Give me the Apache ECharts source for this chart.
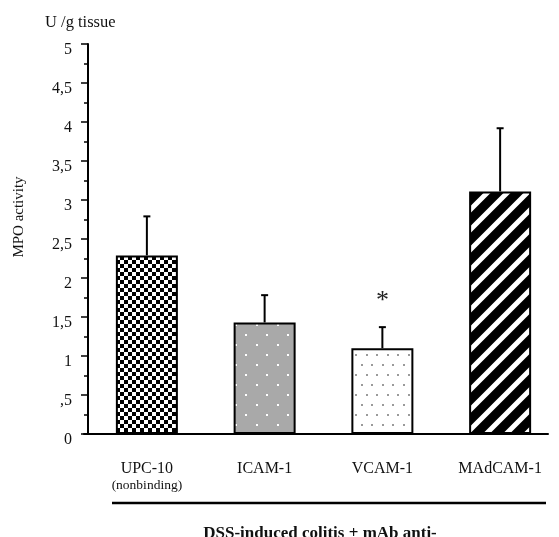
<!DOCTYPE html>
<html>
<head>
<meta charset="utf-8">
<script src="https://cdn.jsdelivr.net/npm/echarts@6/dist/echarts.min.js"></script>
<style>
  html, body { margin: 0; padding: 0; background: #fff; }
  #chart { width: 559px; height: 537px; }
</style>
</head>
<body>
<div id="chart"></div>
<script>
// data
var categories = ['UPC-10', 'ICAM-1', 'VCAM-1', 'MAdCAM-1'];
var subLabels = ['(nonbinding)', '', '', ''];
var mpoMean = [2.29, 1.43, 1.10, 3.11];
var mpoErr = [0.50, 0.35, 0.27, 0.81];
var signif = ['', '', '*', ''];
var yTicks = [0, 0.5, 1, 1.5, 2, 2.5, 3, 3.5, 4, 4.5, 5];

var SERIF = '"Liberation Serif", "DejaVu Serif", serif';

// fill patterns for the bars
function makePattern(w, h, draw) {
  var c = document.createElement('canvas');
  c.width = w; c.height = h;
  draw(c.getContext('2d'));
  return { image: c, repeat: 'repeat' };
}
var checker = makePattern(8, 8, function (g) {
  g.fillStyle = '#fff'; g.fillRect(0, 0, 8, 8);
  g.fillStyle = '#000'; g.fillRect(0, 0, 4, 4); g.fillRect(4, 4, 4, 4);
});
var grayDots = makePattern(21, 20, function (g) {
  g.fillStyle = '#a9a9a9'; g.fillRect(0, 0, 21, 20);
  g.fillStyle = '#fff';
  g.fillRect(4, 4, 2, 2); g.fillRect(14, 14, 2, 2);
});
var lightDots = makePattern(21, 20, function (g) {
  g.fillStyle = '#fff'; g.fillRect(0, 0, 21, 20);
  g.fillStyle = '#9a9a9a';
  g.fillRect(4, 4, 2, 2); g.fillRect(14, 4, 2, 2);
  g.fillRect(9, 14, 2, 2); g.fillRect(19, 14, 2, 2);
});
var stripes = makePattern(20, 20, function (g) {
  g.fillStyle = '#000'; g.fillRect(0, 0, 20, 20);
  g.strokeStyle = '#fff'; g.lineWidth = 5;
  g.beginPath();
  g.moveTo(-5, 25); g.lineTo(25, -5);
  g.moveTo(-15, 15); g.lineTo(15, -15);
  g.moveTo(5, 35); g.lineTo(35, 5);
  g.stroke();
});
var fills = [checker, grayDots, lightDots, stripes];

var myChart = echarts.init(document.getElementById('chart'));

var option = {
  backgroundColor: '#fff',
  animation: false,
  title: {
    text: 'U /g tissue',
    left: 45,
    top: 14,
    padding: 0,
    textStyle: { fontFamily: SERIF, fontSize: 16.5, fontWeight: 'normal', color: '#111' }
  },
  grid: [
    { left: 88, top: 44, width: 473, height: 390 },
    { left: 84, top: 44, width: 464, height: 390 }
  ],
  xAxis: [
    {
      type: 'category',
      gridIndex: 0,
      data: categories,
      axisLine: { show: false },
      axisTick: { show: false },
      axisLabel: {
        margin: 26,
        interval: 0,
        color: '#111',
        fontFamily: SERIF,
        formatter: function (v, i) {
          return subLabels[i] ? '{a|' + v + '}\n{b|' + subLabels[i] + '}' : '{a|' + v + '}';
        },
        rich: {
          a: { fontFamily: SERIF, fontSize: 16, lineHeight: 17, color: '#111' },
          b: { fontFamily: SERIF, fontSize: 13.5, lineHeight: 16, color: '#111' }
        }
      }
    },
    {
      type: 'value',
      gridIndex: 1,
      min: 0,
      max: 1,
      axisLine: { show: true, lineStyle: { color: '#000', width: 2 } },
      axisTick: { show: false },
      axisLabel: { show: false },
      splitLine: { show: false }
    }
  ],
  yAxis: [
    {
      type: 'value',
      gridIndex: 0,
      min: 0,
      max: 5,
      interval: 0.5,
      name: 'MPO activity',
      nameLocation: 'middle',
      nameGap: 61,
      nameTextStyle: { fontFamily: SERIF, fontSize: 15, color: '#111', padding: [0, 0, 0, 44] },
      axisLine: { show: true, lineStyle: { color: '#000', width: 2 } },
      axisTick: { show: true, length: 7, lineStyle: { color: '#000', width: 1.5 } },
      minorTick: { show: true, splitNumber: 2, length: 4, lineStyle: { color: '#000', width: 1.5 } },
      splitLine: { show: false },
      axisLabel: {
        margin: 16,
        color: '#111',
        fontFamily: SERIF,
        fontSize: 16,
        lineHeight: 12,
        verticalAlign: 'top',
        formatter: function (v) {
          if (yTicks.indexOf(v) < 0) return '';
          return v === 0 ? '0' : String(v).replace(/^0/, '').replace('.', ',');
        }
      }
    },
    { type: 'value', gridIndex: 1, show: false, min: 0, max: 1 }
  ],
  series: [
    {
      type: 'bar',
      xAxisIndex: 0,
      yAxisIndex: 0,
      barWidth: 62,
      data: mpoMean.map(function (v, i) {
        return {
          value: v,
          itemStyle: { color: fills[i], borderColor: '#000', borderWidth: 2 }
        };
      }),
      z: 2
    },
    {
      type: 'custom',
      xAxisIndex: 0,
      yAxisIndex: 0,
      data: mpoMean.map(function (v, i) { return [i, v, v + mpoErr[i]]; }),
      renderItem: function (params, api) {
        var base = api.coord([api.value(0), api.value(1)]);
        var top = api.coord([api.value(0), api.value(2)]);
        var children = [
          { type: 'line', shape: { x1: base[0], y1: base[1], x2: top[0], y2: top[1] },
            style: { stroke: '#000', lineWidth: 2 } },
          { type: 'line', shape: { x1: top[0] - 3.5, y1: top[1], x2: top[0] + 3.5, y2: top[1] },
            style: { stroke: '#000', lineWidth: 2 } }
        ];
        var s = signif[params.dataIndex];
        if (s) {
          children.push({
            type: 'text',
            style: {
              text: s, x: top[0], y: top[1] - 26,
              align: 'center', verticalAlign: 'middle',
              font: '26px ' + SERIF, fill: '#222'
            }
          });
        }
        return { type: 'group', children: children };
      },
      z: 1
    }
  ],
  graphic: [
    {
      type: 'line',
      shape: { x1: 112, y1: 503, x2: 546, y2: 503 },
      style: { stroke: '#000', lineWidth: 2.5 }
    },
    {
      type: 'text',
      x: 320,
      y: 525,
      style: {
        text: 'DSS-induced colitis + mAb anti-',
        align: 'center',
        verticalAlign: 'top',
        font: 'bold 17px ' + SERIF,
        fill: '#111'
      }
    }
  ]
};

myChart.setOption(option);
</script>
</body>
</html>
